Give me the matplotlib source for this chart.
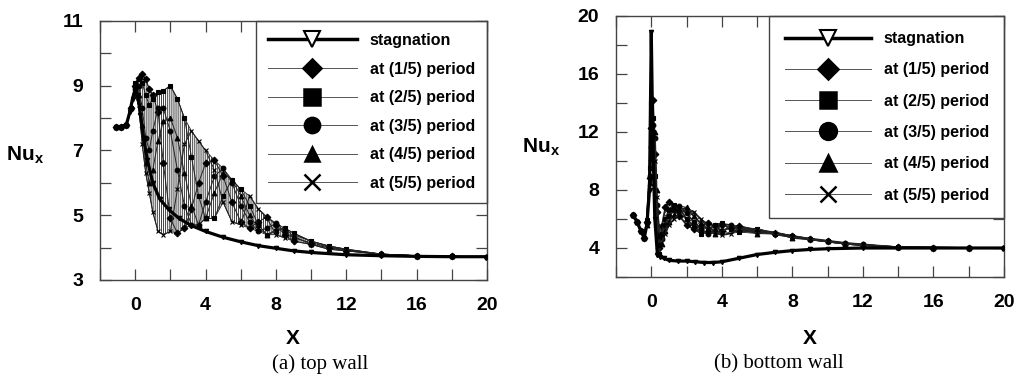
import numpy as np
import matplotlib
matplotlib.use("Agg")
import matplotlib.pyplot as plt
from matplotlib.lines import Line2D

plt.rcParams["font.family"] = ["Liberation Sans", "DejaVu Sans"]
plt.rcParams["font.weight"] = "bold"
plt.rcParams["mathtext.fontset"] = "custom"
plt.rcParams["mathtext.bf"] = "Liberation Sans:bold"
plt.rcParams["mathtext.rm"] = "Liberation Sans:bold"
plt.rcParams["hatch.linewidth"] = 0.6
plt.rcParams["hatch.color"] = "#222222"

labels = ["stagnation", "at (1/5) period", "at (2/5) period",
          "at (3/5) period", "at (4/5) period", "at (5/5) period"]
markers = ["v", "D", "s", "o", "^", "x"]

# ---- (a) top wall ----
top_stag_x = [-1.1, -0.8, -0.5, -0.3, -0.15, 0.0, 0.15, 0.3, 0.5, 0.7, 1.0, 1.4, 1.9,
              2.5, 3.2, 4.0, 5.0, 6.0, 7.0, 8.0, 9.0, 10.0, 12.0, 14.0, 16.0, 18.0, 20.0]
top_stag_y = [7.72, 7.74, 7.8, 8.2, 8.6, 8.9, 8.7, 8.1, 7.3, 6.7, 6.0, 5.5, 5.18,
              4.9, 4.68, 4.5, 4.32, 4.18, 4.06, 3.98, 3.9, 3.85, 3.78, 3.75, 3.73, 3.72, 3.72]

top_x = [-1.1, -0.8, -0.5, -0.25, 0.0, 0.2, 0.4, 0.6, 0.8, 1.0, 1.3, 1.6, 2.0, 2.4, 2.8,
         3.2, 3.6, 4.0, 4.5, 5.0, 5.5, 6.0, 6.5, 7.0, 7.5, 8.0, 8.5, 9.0, 10.0, 11.0,
         12.0, 14.0, 16.0, 18.0, 20.0]
top_p1 = [7.72, 7.74, 7.8, 8.3, 9.0, 9.25, 9.35, 9.2, 8.9, 8.7, 8.2, 6.6, 4.9, 4.45, 4.6,
          5.2, 6.0, 6.6, 6.7, 6.2, 5.4, 4.8, 4.6, 4.8, 4.95, 4.7, 4.4, 4.2, 4.1, 4.0,
          3.9, 3.8, 3.75, 3.73, 3.72]
top_p2 = [7.72, 7.74, 7.8, 8.3, 9.1, 9.2, 9.1, 8.7, 8.4, 8.6, 8.8, 8.85, 9.0, 8.6, 8.0,
          6.8, 5.6, 4.9, 4.9, 5.6, 6.1, 5.8, 5.3, 4.7, 4.4, 4.5, 4.6, 4.45, 4.2, 4.05,
          3.95, 3.8, 3.75, 3.73, 3.72]
top_p3 = [7.72, 7.74, 7.8, 8.3, 8.9, 9.0, 8.3, 7.4, 7.0, 7.6, 8.3, 8.3, 7.6, 6.4, 5.3,
          4.7, 4.7, 5.4, 6.2, 6.45, 6.0, 5.3, 4.8, 4.5, 4.6, 4.75, 4.5, 4.3, 4.15, 4.02,
          3.92, 3.8, 3.75, 3.73, 3.72]
top_p4 = [7.72, 7.74, 7.8, 8.3, 8.8, 8.7, 7.8, 6.6, 6.0, 6.4, 7.3, 7.9, 8.0, 7.4, 6.3,
          5.3, 4.7, 4.9, 5.7, 6.3, 6.1, 5.6, 5.0, 4.6, 4.4, 4.55, 4.6, 4.35, 4.1, 3.95,
          3.9, 3.79, 3.75, 3.73, 3.72]
top_p5 = [7.72, 7.74, 7.8, 8.3, 8.7, 8.4, 7.2, 6.3, 5.7, 5.1, 4.5, 4.4, 4.5, 5.8, 7.2,
          7.6, 7.3, 7.0, 6.4, 5.4, 4.8, 4.7, 5.6, 5.2, 4.9, 4.4, 4.3, 4.4, 4.2, 4.05,
          3.95, 3.8, 3.75, 3.73, 3.72]

# ---- (b) bottom wall ----
bot_stag_x = [-1.05, -0.8, -0.6, -0.4, -0.25, -0.1, 0.0, 0.08, 0.2, 0.35, 0.5, 0.7, 1.0,
              1.5, 2.0, 2.5, 3.0, 3.5, 4.0, 5.0, 6.0, 7.0, 8.0, 9.0, 10.0, 12.0, 14.0,
              16.0, 18.0, 20.0]
bot_stag_y = [6.3, 5.8, 5.2, 4.7, 5.6, 8.0, 18.9, 12.0, 6.0, 3.5, 3.4, 3.3, 3.15,
              3.1, 3.1, 3.05, 3.0, 3.0, 3.05, 3.3, 3.55, 3.7, 3.82, 3.9, 3.95, 4.0, 4.0,
              4.0, 4.0, 4.0]

bot_x = [-1.05, -0.8, -0.6, -0.4, -0.25, -0.1, 0.0, 0.1, 0.2, 0.3, 0.45, 0.6, 0.8, 1.0,
         1.3, 1.6, 2.0, 2.4, 2.8, 3.2, 3.6, 4.0, 4.5, 5.0, 6.0, 7.0, 8.0, 9.0, 10.0,
         11.0, 12.0, 14.0, 16.0, 18.0, 20.0]
bot_p1 = [6.3, 5.8, 5.2, 4.7, 5.8, 8.8, 12.3, 14.2, 10.5, 6.5, 4.0, 5.5, 6.8, 7.2, 6.8,
          6.2, 5.6, 5.3, 5.5, 5.7, 5.5, 5.2, 5.4, 5.5, 5.2, 5.0, 4.8, 4.6, 4.45, 4.3,
          4.2, 4.05, 4.02, 4.0, 4.0]
bot_p2 = [6.3, 5.8, 5.2, 4.7, 5.9, 9.5, 14.0, 13.0, 9.0, 5.5, 3.6, 5.0, 6.0, 6.6, 7.0,
          6.7, 6.0, 5.5, 5.0, 5.2, 5.6, 5.7, 5.3, 5.1, 5.3, 5.0, 4.85, 4.6, 4.45, 4.3,
          4.2, 4.05, 4.02, 4.0, 4.0]
bot_p3 = [6.3, 5.8, 5.2, 4.7, 5.7, 9.0, 11.0, 12.5, 11.6, 7.0, 4.2, 4.6, 5.6, 6.2, 6.6,
          6.9, 6.4, 5.8, 5.3, 5.0, 5.2, 5.6, 5.6, 5.2, 5.1, 5.05, 4.8, 4.65, 4.5, 4.35,
          4.25, 4.05, 4.02, 4.0, 4.0]
bot_p4 = [6.3, 5.8, 5.2, 4.7, 5.6, 8.5, 10.2, 11.8, 12.0, 8.0, 4.8, 4.3, 5.2, 5.8, 6.3,
          6.6, 6.8, 6.2, 5.7, 5.3, 5.0, 5.1, 5.5, 5.4, 5.0, 5.1, 4.7, 4.6, 4.45, 4.3,
          4.2, 4.05, 4.02, 4.0, 4.0]
bot_p5 = [6.3, 5.8, 5.2, 4.7, 5.8, 8.7, 11.5, 11.6, 10.0, 7.5, 5.0, 4.9, 5.0, 5.6, 6.0,
          6.4, 6.6, 6.5, 6.0, 5.5, 5.1, 4.9, 5.0, 5.3, 5.3, 4.95, 4.75, 4.6, 4.45, 4.3,
          4.2, 4.05, 4.02, 4.0, 4.0]

top_ticks_y = [3, 5, 7, 9, 11]
bot_ticks_y = [4, 8, 12, 16, 20]
x_ticks = [0, 4, 8, 12, 16, 20]

fig = plt.figure(figsize=(10.28, 3.78), dpi=100)
ax1 = fig.add_axes([100 / 1028, 1 - 280 / 378, 387 / 1028, 259 / 378])
ax2 = fig.add_axes([616 / 1028, 1 - 277 / 378, 388 / 1028, 261 / 378])


def draw(ax, sx, sy, px, curves, hatch, xmin_fill, lw):
    px = np.array(px)
    arr = np.array(curves)
    lo, hi = arr.min(axis=0), arr.max(axis=0)
    m = px >= xmin_fill
    ax.fill_between(px[m], lo[m], hi[m], facecolor="none", edgecolor="#222222",
                    hatch=hatch, linewidth=0.6, zorder=1)
    for c, mk in zip(curves, markers[1:]):
        ax.plot(px, c, color="#222222", lw=lw, marker=mk, ms=3.4,
                mfc="black", mec="black", mew=0.8, zorder=2)
    ax.plot(sx, sy, color="black", lw=2.3, marker="v", ms=3, mfc="black",
            mec="black", zorder=3)


def style(ax, ylim, yticks, ystep):
    ax.set_xlim(-2, 20)
    ax.set_ylim(*ylim)
    ax.set_xticks(np.arange(-2, 21, 2), minor=True)
    ax.set_xticks(x_ticks)
    ax.set_yticks(np.arange(ylim[0], ylim[1] + 0.1, ystep), minor=True)
    ax.set_yticks(yticks)
    ax.tick_params(which="both", direction="in", top=True, right=True,
                   length=8, width=0.9, color="#444444")
    ax.tick_params(which="major", labelsize=14, pad=12)
    for s in ax.spines.values():
        s.set_linewidth(1.0)
        s.set_color("#444444")


draw(ax1, top_stag_x, top_stag_y, top_x, [top_p1, top_p2, top_p3, top_p4, top_p5],
     "||||||||", 0.0, 0.7)
draw(ax2, bot_stag_x, bot_stag_y, bot_x, [bot_p1, bot_p2, bot_p3, bot_p4, bot_p5],
     "xxxxxx", 0.45, 1.3)
style(ax1, (3, 11), top_ticks_y, 1)
style(ax2, (2, 20), bot_ticks_y, 2)


def handles(big):
    h = [Line2D([], [], color="black", lw=2.5, marker="v", ms=11 * big,
                mfc="white", mec="black", mew=1.5)]
    sizes = [9, 11, 11, 10, 11]
    for mk, s in zip(markers[1:], sizes):
        h.append(Line2D([], [], color="#555555", lw=0.7, marker=mk, ms=s * big,
                        mfc="black", mec="black", mew=1.8))
    return h


for ax, big, sp, bp, hl in [(ax1, 1.0, 0.85, 0.75, 5.6), (ax2, 1.1, 1.02, 0.95, 5.4)]:
    leg = ax.legend(handles(big), labels, loc="upper right", borderaxespad=0,
                    fancybox=False, edgecolor="#444444", framealpha=1,
                    handlelength=hl, handletextpad=0.8, labelspacing=sp,
                    borderpad=bp, prop={"size": 11.5, "weight": "bold"})
    leg.get_frame().set_linewidth(1.0)
    leg.set_zorder(2.4)

for ax, cx, cap, capx in [(ax1, 293, "(a) top wall", 320),
                          (ax2, 810, "(b) bottom wall", 779)]:
    fig.text(cx / 1028, 1 - 338 / 378, "X", ha="center", va="center",
             fontsize=15, fontweight="bold")
    fig.text(capx / 1028, 1 - 364 / 378, cap, ha="center", va="center",
             fontsize=15, family="Liberation Serif", fontweight="normal")

fig.text(25 / 1028, 1 - 155 / 378, r"$\mathbf{Nu}_\mathbf{x}$", ha="center",
         va="center", fontsize=15)
fig.text(541 / 1028, 1 - 147 / 378, r"$\mathbf{Nu}_\mathbf{x}$", ha="center",
         va="center", fontsize=15)

fig.savefig("out.png", dpi=100)
